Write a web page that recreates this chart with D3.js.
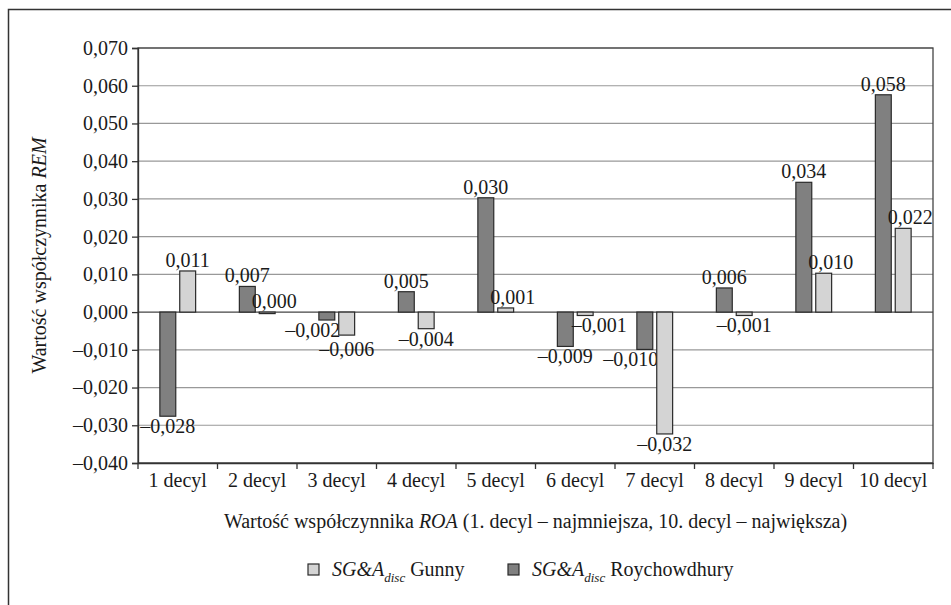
<!DOCTYPE html>
<html><head><meta charset="utf-8">
<script src="https://cdn.jsdelivr.net/npm/d3@7"></script>
<style>body{margin:0;background:#fff}svg{display:block}text{font-family:"Liberation Serif","Times New Roman","DejaVu Serif",serif;fill:#1a1a1a}</style>
</head><body>
<script>
const categories = ["1 decyl","2 decyl","3 decyl","4 decyl","5 decyl","6 decyl","7 decyl","8 decyl","9 decyl","10 decyl"];
const roychowdhury = [-0.0276, 0.0068, -0.0021, 0.0054, 0.0303, -0.0091, -0.0099, 0.0064, 0.0344, 0.0576];
const gunny = [0.0109, 0.0000, -0.0061, -0.0044, 0.0011, -0.0009, -0.0323, -0.0009, 0.0103, 0.0222];
const yTicks = [-0.04,-0.03,-0.02,-0.01,0,0.01,0.02,0.03,0.04,0.05,0.06,0.07];
const seriesNames = ["Roychowdhury","Gunny"];

const W = 951, H = 605;
const m = {left:138, right:951-933, top:48, bottom:605-463};
const svg = d3.select("body").append("svg").attr("width",W).attr("height",H);
const fs = 20;

// outer frame
svg.append("path").attr("d",`M8.5,${H}V9.5H${W}`).attr("fill","none").attr("stroke","#333").attr("stroke-width",1.5);

const x = d3.scaleBand().domain(categories).range([m.left, W-m.right]);
const sub = d3.scaleBand().domain(seriesNames).range([0, x.bandwidth()]).paddingInner(0.2).paddingOuter(1.1);
const y = d3.scaleLinear().domain([-0.04,0.07]).range([H-m.bottom, m.top]);

// gridlines
svg.append("g").selectAll("line").data(yTicks).join("line")
  .attr("x1",m.left).attr("x2",W-m.right).attr("y1",d=>y(d)).attr("y2",d=>y(d))
  .attr("stroke",d=>d===0?"#444":"#999").attr("stroke-width",d=>d===0?1.3:1.2);

// plot frame
svg.append("rect").attr("x",m.left).attr("y",m.top).attr("width",W-m.right-m.left).attr("height",H-m.bottom-m.top)
  .attr("fill","none").attr("stroke","#444").attr("stroke-width",1.3);

const fmt = v => { let s = d3.format(".3f")(Math.abs(v)).replace(".",","); return (v<0 && s!=="0,000") ? "\u2013"+s : s; };

// y axis
const ya = svg.append("g").attr("transform",`translate(${m.left},0)`)
  .call(d3.axisLeft(y).tickValues(yTicks).tickSize(6).tickPadding(4).tickFormat(fmt));
ya.select(".domain").attr("stroke","#333").attr("stroke-width",1.3);
ya.selectAll(".tick line").attr("stroke","#333").attr("stroke-width",1.3);
ya.selectAll("text").attr("font-size",fs).attr("font-family","Liberation Serif").attr("fill","#1a1a1a");

// x axis
const xa = svg.append("g").attr("transform",`translate(0,${H-m.bottom})`)
  .call(d3.axisBottom(x).tickSize(0).tickPadding(10));
xa.select(".domain").attr("stroke","#333").attr("stroke-width",1.3);
xa.selectAll("text").attr("font-size",fs).attr("font-family","Liberation Serif").attr("fill","#1a1a1a");
svg.append("g").selectAll("line").data(d3.range(categories.length+1)).join("line")
  .attr("x1",i=>m.left+i*x.step()).attr("x2",i=>m.left+i*x.step())
  .attr("y1",H-m.bottom).attr("y2",H-m.bottom+6).attr("stroke","#333").attr("stroke-width",1.3);

// bars
const series = [
  {name:"Roychowdhury", values:roychowdhury, other:gunny, fill:"#808080", side:-1},
  {name:"Gunny", values:gunny, other:roychowdhury, fill:"#d4d4d4", side:1}
];
// nudge a label sideways when it would sit over the neighbouring bar of its group
function labelDx(s, d, i){
  const o = s.other[i];
  if (d < 0) {
    const top = y(d) + 3;
    if (o < 0 && y(o) > top) return s.side * 14;
  } else {
    const bottom = y(d) - 4;
    if (s.side === 1 && o > 0 && y(o) < bottom) return 7;
  }
  return 0;
}
function labelY(s, d, i){
  if (d >= 0) return y(d) - 4;
  let b = y(d) + 17;
  const o = s.other[i];
  // keep two negative labels of one group from overlapping vertically
  if (o < 0 && d < o) {
    const ob = y(o) + 17;
    if (b - ob < 19) b = ob + 19;
  }
  return b;
}
series.forEach(s=>{
  const g = svg.append("g");
  g.selectAll("rect").data(s.values).join("rect")
    .attr("x",(d,i)=>x(categories[i])+sub(s.name))
    .attr("width",sub.bandwidth())
    .attr("y",d=>Math.min(y(d),y(0)))
    .attr("height",d=>Math.max(1.5,Math.abs(y(d)-y(0))))
    .attr("fill",s.fill).attr("stroke","#2a2a2a").attr("stroke-width",1.2);
  g.selectAll("text").data(s.values).join("text")
    .attr("x",(d,i)=>x(categories[i])+sub(s.name)+sub.bandwidth()/2+labelDx(s,d,i))
    .attr("y",(d,i)=>labelY(s,d,i))
    .attr("text-anchor","middle").attr("font-size",fs)
    .text(d=>fmt(d));
});

// axis titles
const yt = svg.append("text").attr("transform",`translate(46,${(m.top+H-m.bottom)/2}) rotate(-90)`)
  .attr("text-anchor","middle").attr("font-size",fs);
yt.append("tspan").text("Wartość współczynnika ");
yt.append("tspan").attr("font-style","italic").text("REM");

const xt = svg.append("text").attr("x",(m.left+W-m.right)/2).attr("y",528)
  .attr("text-anchor","middle").attr("font-size",fs);
xt.append("tspan").text("Wartość współczynnika ");
xt.append("tspan").attr("font-style","italic").text("ROA");
xt.append("tspan").text(" (1. decyl \u2013 najmniejsza, 10. decyl \u2013 największa)");

// legend
const legendItems = [
  {name:"Gunny", fill:"#d4d4d4", x:308},
  {name:"Roychowdhury", fill:"#808080", x:508}
];
legendItems.forEach(it=>{
  const g = svg.append("g").attr("transform",`translate(${it.x},0)`);
  g.append("rect").attr("x",0).attr("y",564).attr("width",11).attr("height",11)
    .attr("fill",it.fill).attr("stroke","#2a2a2a").attr("stroke-width",1.2);
  const t = g.append("text").attr("x",24).attr("y",576).attr("font-size",fs);
  t.append("tspan").attr("font-style","italic").text("SG&A");
  t.append("tspan").attr("font-style","italic").attr("font-size",13).attr("dy",6).text("disc");
  t.append("tspan").attr("dy",-6).text(" "+it.name);
});
</script>
</body></html>
